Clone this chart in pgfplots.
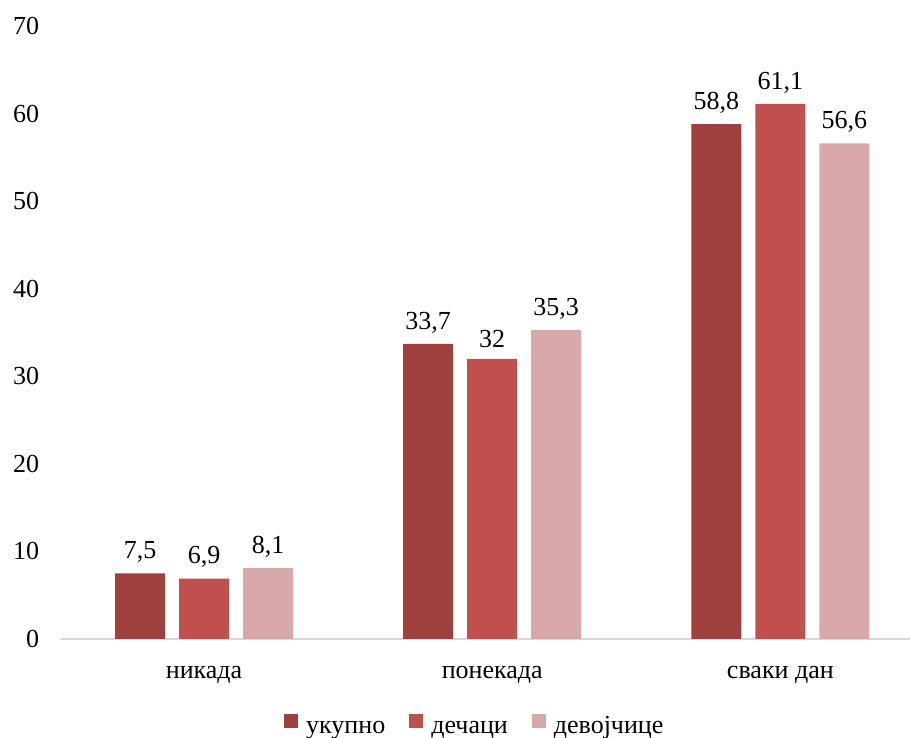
\documentclass[border=0pt]{standalone}
\usepackage{fontspec}
\setmainfont{Liberation Serif}
\usepackage{pgfplots}
\pgfplotsset{compat=1.18}
\definecolor{ukupno}{HTML}{9E413E}
\definecolor{decaci}{HTML}{C0504D}
\definecolor{devojcice}{HTML}{D9A9A9}
\definecolor{axisgray}{HTML}{D9D9D9}
\newcommand\chartfont{\fontsize{26}{30}\selectfont}

\begin{document}
\chartfont
\begin{tikzpicture}[x=1pt,y=1pt]
\useasboundingbox (0,0) rectangle (910,738);
\begin{axis}[
  at={(60pt,99pt)}, anchor=south west,
  scale only axis, width=850pt, height=613pt,
  ybar=14pt, bar width=50pt,
  xmin=-0.5, xmax=2.45, ymin=0, ymax=70,
  clip=false,
  axis x line*=bottom, axis y line*=left,
  x axis line style={axisgray, line width=1.2pt, -},
  y axis line style={draw=none},
  major tick length=0pt,
  xtick={0,1,2},
  xticklabels={никада,понекада,сваки дан},
  ytick={0,10,...,70},
  yticklabel style={anchor=east, xshift=-12pt},
  xticklabel style={yshift=-18pt},
  tick label style={font=\chartfont},
  /pgf/number format/assume math mode=true,
  nodes near coords,
  nodes near coords style={font=\chartfont, yshift=2pt,
    /pgf/number format/.cd, use comma, precision=1},
  legend style={at={(0.488,-0.143)}, anchor=center, draw=none,
    inner sep=0pt, legend columns=-1, font=\chartfont,
    nodes={text height=0.7em, text depth=0.22em, inner ysep=0pt},
    /tikz/every odd column/.append style={column sep=6pt},
    /tikz/every even column/.append style={column sep=22pt}},
  legend image code/.code={\fill[#1] (0pt,-1pt) rectangle (14pt,13pt);},
]
\addplot[fill=ukupno, draw=none] coordinates {(0,7.5) (1,33.7) (2,58.8)};
\addplot[fill=decaci, draw=none] coordinates {(0,6.9) (1,32) (2,61.1)};
\addplot[fill=devojcice, draw=none] coordinates {(0,8.1) (1,35.3) (2,56.6)};
\legend{укупно,дечаци,девојчице}
\end{axis}
\end{tikzpicture}
\end{document}
